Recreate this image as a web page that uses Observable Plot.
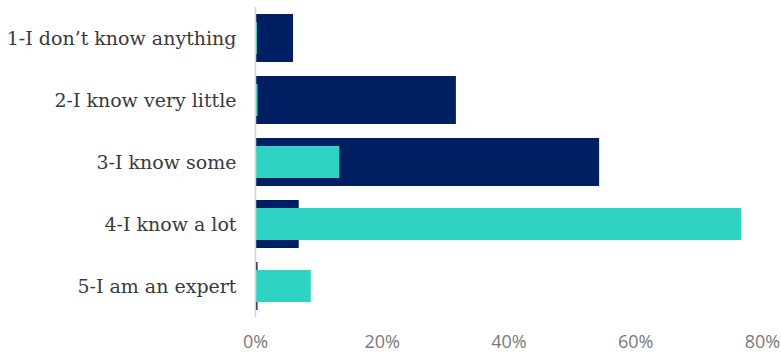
<!DOCTYPE html>
<html>
<head>
<meta charset="utf-8">
<script src="https://cdn.jsdelivr.net/npm/d3@7"></script>
<script src="https://cdn.jsdelivr.net/npm/@observablehq/plot@0.6"></script>
<style>
  html, body { margin: 0; padding: 0; background: #ffffff; }
  #chart svg { display: block; }
</style>
</head>
<body>
<div id="chart"></div>
<script>
const categories = [
  "1-I don\u2019t know anything",
  "2-I know very little",
  "3-I know some",
  "4-I know a lot",
  "5-I am an expert"
];
// Back (navy, wider) series
const navyValues = [0.060, 0.317, 0.543, 0.069, 0.004];
// Front (teal, narrower) series
const tealValues = [0.003, 0.004, 0.133, 0.767, 0.088];
const xTicks = [0, 0.2, 0.4, 0.6, 0.8];

const navyData = categories.map((c, i) => ({category: c, value: navyValues[i]}));
const tealData = categories.map((c, i) => ({category: c, value: tealValues[i]}));

const chart = Plot.plot({
  width: 781,
  height: 355,
  marginLeft: 255,
  marginRight: 19,
  marginTop: 7,
  marginBottom: 38,
  style: {background: "#ffffff"},
  x: {domain: [0, 0.8], ticks: xTicks, tickFormat: d3.format(".0%"), label: null},
  y: {domain: categories, paddingInner: 0.226, paddingOuter: 0.113, label: null},
  marks: [
    Plot.barX(navyData, {x: "value", y: "category", fill: "#001f63"}),
    Plot.barX(tealData, {x: "value", y: "category", fill: "#2ed3c3", insetTop: 8, insetBottom: 8}),
    Plot.ruleX([0], {stroke: "#d4d4d4", strokeWidth: 1.5}),
    Plot.axisX({ticks: xTicks, tickFormat: d3.format(".0%"), tickSize: 0, tickPadding: 18,
      fontSize: 18, fontFamily: "'Open Sans', sans-serif", fill: "#7a7a7a", label: null}),
    Plot.axisY({tickSize: 0, tickPadding: 19, fontSize: 19,
      fontFamily: "'DejaVu Serif', serif", fill: "#3a3a3a", label: null})
  ]
});
document.getElementById("chart").appendChild(chart);
</script>
</body>
</html>
